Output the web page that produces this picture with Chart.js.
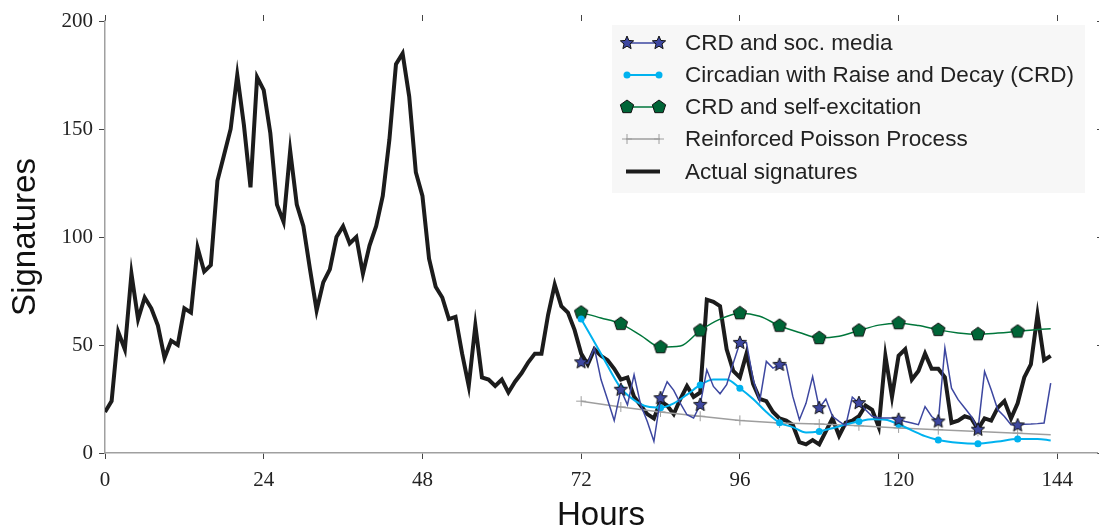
<!DOCTYPE html>
<html>
<head>
<meta charset="utf-8">
<script src="https://cdn.jsdelivr.net/npm/chart.js@4.4.1/dist/chart.umd.min.js"></script>
<style>
    html, body { margin: 0; padding: 0; background: #fff; }
    #wrap { width: 1099px; height: 531px; }
</style>
</head>
<body>
<div id="wrap"><canvas id="chart" width="1099" height="531"></canvas></div>
<script>
// Axis ticks
var xTickValues = [0, 24, 48, 72, 96, 120, 144];
var yTickValues = [0, 50, 100, 150, 200];

// Actual signatures, one value per hour starting at hour 0
var actualSignatures = [
    19, 24, 56, 48, 83, 62, 72, 67, 59, 44, 52, 50, 67, 65, 95, 84, 87, 126, 138, 150,
    175, 152, 123, 174, 168, 148, 115, 107, 140, 115, 105, 85, 66, 79, 85, 100, 105, 97, 100, 83,
    96, 105, 119, 145, 180, 185, 165, 130, 119, 90, 77, 72, 62, 63, 46, 31, 59, 35, 34, 31,
    34, 28, 33, 37, 42, 46, 46, 64, 78, 68, 65, 57, 46, 41, 48, 45, 43, 39, 34, 35,
    26, 22, 18, 16, 24, 22, 18, 25, 31, 26, 28, 71, 70, 68, 48, 38, 35, 46, 32, 25,
    24, 19, 16, 15, 13, 5, 4, 6, 4, 10, 16, 8, 14, 15, 17, 22, 20, 12, 45, 26,
    45, 48, 34, 38, 46, 39, 39, 35, 14, 15, 17, 16, 11, 16, 15, 21, 24, 16, 23, 35,
    41, 64, 43, 45
];

// CRD and soc. media, one value per hour starting at hour 72
var socMediaStart = 72;
var socMedia = [
    42, 41.6, 48.6, 34, 24.7, 15, 29.3, 22.3, 36.2, 22.3,
    14.6, 5.4, 25.4, 33, 29, 23, 17.7, 16.2, 22.3, 38.5,
    30.8, 27.4, 31.6, 41.6, 51, 51, 34, 24, 42.4, 39.3,
    40.8, 40.8, 26.2, 15.4, 23, 35.4, 20.8, 25, 17, 14.6,
    12.6, 25.9, 23.1, 20, 17, 16.2, 16.2, 16.2, 15.4, 14.6,
    13.9, 13.1, 21.5, 16.9, 14.6, 48.6, 30, 24.7, 20.8, 16.9,
    10.8, 37.7, 29.3, 20, 16.9, 13.1, 12.8, 13.3, 13.4, 13.6,
    13.9, 32.4
];

// Circadian with Raise and Decay (CRD)
var crdHours = [72, 75, 78, 80, 82, 84, 86, 88, 90, 92, 94, 96, 98, 100, 102, 104, 106, 108,
    110, 112, 114, 116, 118, 120, 122, 124, 126, 129, 132, 135, 138, 141, 143];
var crdValues = [62, 46, 30, 24.5, 21.5, 21, 23, 27, 31.5, 34, 34, 30, 25, 19, 14, 12, 9.5, 10,
    11.5, 13.2, 14.6, 15.6, 15.4, 13.3, 10.5, 7.8, 6, 4.7, 4.3, 5.3, 6.5, 6.5, 5.8];

// CRD and self-excitation
var selfExcHours = [72, 75, 78, 81, 84, 87, 90, 93, 96, 99, 102, 105, 108, 111, 114, 117, 120,
    123, 126, 129, 132, 135, 138, 141, 143];
var selfExcValues = [65, 62.5, 59.8, 54.5, 49, 49.5, 56.7, 62, 64.7, 63.3, 58.9, 55.8, 53.2, 54,
    56.7, 59.2, 60.1, 59, 57, 55.6, 55, 55.5, 56.2, 57.2, 57.5];

// Reinforced Poisson Process
var poissonHours = [72, 78, 84, 90, 96, 102, 108, 114, 120, 126, 132, 138, 143];
var poissonValues = [24, 21.3, 19, 17, 15.1, 13.9, 13.4, 12.6, 11.6, 10.8, 10, 9.2, 8.5];

// Model markers are drawn every 6 hours
var markerHours = [72, 78, 84, 90, 96, 102, 108, 114, 120, 126, 132, 138];

// Colours
var colors = {
    actual: '#1c1c1c',
    socMedia: '#3d47a0',
    crd: '#00b2ef',
    selfExc: '#00763b',
    selfExcFill: '#006537',
    poisson: '#9e9e9e'
};

// Small canvases used as point styles (filled star / pentagon with dark edge)
function makePolygon(fill, size, spikes, inner) {
    var c = document.createElement('canvas');
    c.width = size;
    c.height = size;
    var g = c.getContext('2d');
    var cx = size / 2, cy = size / 2, R = size / 2 - 1;
    var n = inner ? spikes * 2 : spikes;
    g.beginPath();
    for (var i = 0; i < n; i++) {
        var rad = (inner && i % 2 === 1) ? R * inner : R;
        var a = -Math.PI / 2 + i * 2 * Math.PI / n;
        g.lineTo(cx + rad * Math.cos(a), cy + rad * Math.sin(a));
    }
    g.closePath();
    g.fillStyle = fill;
    g.fill();
    g.lineWidth = 1;
    g.strokeStyle = '#111';
    g.stroke();
    return c;
}

var starImg = makePolygon(colors.socMedia, 16, 5, 0.45);
var pentagonImg = makePolygon(colors.selfExcFill, 16, 5, 0);

function toPoints(xs, ys) {
    return ys.map(function(v, i) { return { x: xs[i], y: v }; });
}

function markerRadius(r) {
    return function(ctx) {
        return (ctx.raw && markerHours.indexOf(ctx.raw.x) !== -1) ? r : 0;
    };
}

var actualPoints = actualSignatures.map(function(v, i) { return { x: i, y: v }; });
var socMediaPoints = socMedia.map(function(v, i) { return { x: socMediaStart + i, y: v }; });

// Legend box like the original (line with a marker at both ends)
var legendItems = [
    { label: 'CRD and soc. media', color: colors.socMedia, width: 1.5, marker: 'star' },
    { label: 'Circadian with Raise and Decay (CRD)', color: colors.crd, width: 2, marker: 'circle' },
    { label: 'CRD and self-excitation', color: colors.selfExc, width: 1.5, marker: 'pentagon' },
    { label: 'Reinforced Poisson Process', color: colors.poisson, width: 1.5, marker: 'plus' },
    { label: 'Actual signatures', color: colors.actual, width: 4, marker: null }
];

function drawMarker(ctx, type, x, y, color) {
    if (type === 'star') {
        ctx.drawImage(starImg, x - 8, y - 8);
    } else if (type === 'pentagon') {
        ctx.drawImage(pentagonImg, x - 8, y - 8);
    } else if (type === 'circle') {
        ctx.beginPath();
        ctx.arc(x, y, 3.5, 0, Math.PI * 2);
        ctx.fillStyle = color;
        ctx.fill();
    } else if (type === 'plus') {
        ctx.beginPath();
        ctx.moveTo(x - 5, y);
        ctx.lineTo(x + 5, y);
        ctx.moveTo(x, y - 5);
        ctx.lineTo(x, y + 5);
        ctx.strokeStyle = color;
        ctx.lineWidth = 1;
        ctx.stroke();
    }
}

var boxLegend = {
    id: 'boxLegend',
    afterDraw: function(chart) {
        var ctx = chart.ctx;
        var rows = [43, 75, 107, 139, 171.5];
        ctx.save();
        ctx.fillStyle = '#f7f7f7';
        ctx.fillRect(612, 25, 473, 168);
        legendItems.forEach(function(item, i) {
            var y = rows[i];
            ctx.beginPath();
            ctx.moveTo(626, y);
            ctx.lineTo(660, y);
            ctx.strokeStyle = item.color;
            ctx.lineWidth = item.width;
            ctx.stroke();
            if (item.marker) {
                drawMarker(ctx, item.marker, 627, y, item.color);
                drawMarker(ctx, item.marker, 659, y, item.color);
            }
            ctx.fillStyle = '#222';
            ctx.font = '22.5px "Liberation Sans", Arial, sans-serif';
            ctx.textBaseline = 'middle';
            ctx.textAlign = 'left';
            ctx.fillText(item.label, 685, y + 1);
        });
        ctx.restore();
    }
};

var tickFont = { family: '"Liberation Serif", "DejaVu Serif", serif', size: 21 };
var titleFont = { family: '"Liberation Sans", Arial, sans-serif', size: 33, lineHeight: 1 };

function setTicks(values) {
    return function(scale) {
        scale.ticks = values.map(function(v) { return { value: v }; });
    };
}

// Fix the box size of an axis and drop the label overflow padding
function fixSize(prop, size) {
    return function(scale) {
        scale[prop] = size;
        scale.paddingLeft = 0;
        scale.paddingRight = 0;
        scale.paddingTop = 0;
        scale.paddingBottom = 0;
    };
}

var ctx = document.getElementById('chart').getContext('2d');
var chart = new Chart(ctx, {
    type: 'line',
    data: {
        datasets: [
            {
                label: 'Actual signatures',
                data: actualPoints,
                borderColor: colors.actual,
                borderWidth: 4,
                pointRadius: 0,
                tension: 0,
                order: 10
            },
            {
                label: 'Reinforced Poisson Process',
                data: toPoints(poissonHours, poissonValues),
                borderColor: colors.poisson,
                borderWidth: 1.5,
                pointStyle: 'cross',
                pointRadius: markerRadius(5),
                pointBorderColor: colors.poisson,
                pointBorderWidth: 1,
                tension: 0,
                order: 4
            },
            {
                label: 'CRD and self-excitation',
                data: toPoints(selfExcHours, selfExcValues),
                borderColor: colors.selfExc,
                borderWidth: 1.5,
                pointStyle: pentagonImg,
                pointRadius: markerRadius(7),
                cubicInterpolationMode: 'monotone',
                order: 3
            },
            {
                label: 'Circadian with Raise and Decay (CRD)',
                data: toPoints(crdHours, crdValues),
                borderColor: colors.crd,
                borderWidth: 2,
                pointStyle: 'circle',
                pointRadius: markerRadius(3.5),
                pointBackgroundColor: colors.crd,
                pointBorderColor: colors.crd,
                pointBorderWidth: 0,
                cubicInterpolationMode: 'monotone',
                order: 2
            },
            {
                label: 'CRD and soc. media',
                data: socMediaPoints,
                borderColor: colors.socMedia,
                borderWidth: 1.5,
                pointStyle: starImg,
                pointRadius: markerRadius(7),
                tension: 0,
                order: 1
            }
        ]
    },
    options: {
        responsive: false,
        animation: false,
        devicePixelRatio: 1,
        layout: { padding: 0, autoPadding: false },
        plugins: {
            legend: { display: false },
            tooltip: { enabled: false }
        },
        scales: {
            x: {
                type: 'linear',
                position: 'bottom',
                min: 0,
                max: 150,
                afterBuildTicks: setTicks(xTickValues),
                afterFit: fixSize('height', 78),
                grid: { drawOnChartArea: false, tickLength: 6, tickColor: '#444', tickWidth: 1 },
                border: { color: '#a0a0a0', width: 1.5 },
                ticks: { font: tickFont, color: '#222', padding: 9, autoSkip: false, maxRotation: 0 },
                title: { display: true, text: 'Hours', font: titleFont, color: '#111', padding: { top: 0, bottom: -1 } }
            },
            x2: {
                type: 'linear',
                position: 'top',
                min: 0,
                max: 150,
                afterBuildTicks: setTicks(xTickValues),
                afterFit: fixSize('height', 21),
                grid: { drawOnChartArea: false, tickLength: 6, tickColor: '#444', tickWidth: 1 },
                border: { display: false },
                ticks: { display: false }
            },
            y: {
                type: 'linear',
                position: 'left',
                min: 0,
                max: 200,
                afterBuildTicks: setTicks(yTickValues),
                afterFit: fixSize('width', 105),
                grid: { drawOnChartArea: false, tickLength: 6, tickColor: '#444', tickWidth: 1 },
                border: { color: '#a0a0a0', width: 1.5 },
                ticks: { font: tickFont, color: '#222', padding: 6 },
                title: { display: true, text: 'Signatures', font: titleFont, color: '#111', padding: { top: 9, bottom: 0 } }
            },
            y2: {
                type: 'linear',
                position: 'right',
                min: 0,
                max: 200,
                afterBuildTicks: setTicks(yTickValues),
                afterFit: fixSize('width', 2),
                grid: { drawOnChartArea: false, tickLength: 6, tickColor: '#444', tickWidth: 1 },
                border: { display: false },
                ticks: { display: false }
            }
        }
    },
    plugins: [boxLegend]
});
</script>
</body>
</html>
